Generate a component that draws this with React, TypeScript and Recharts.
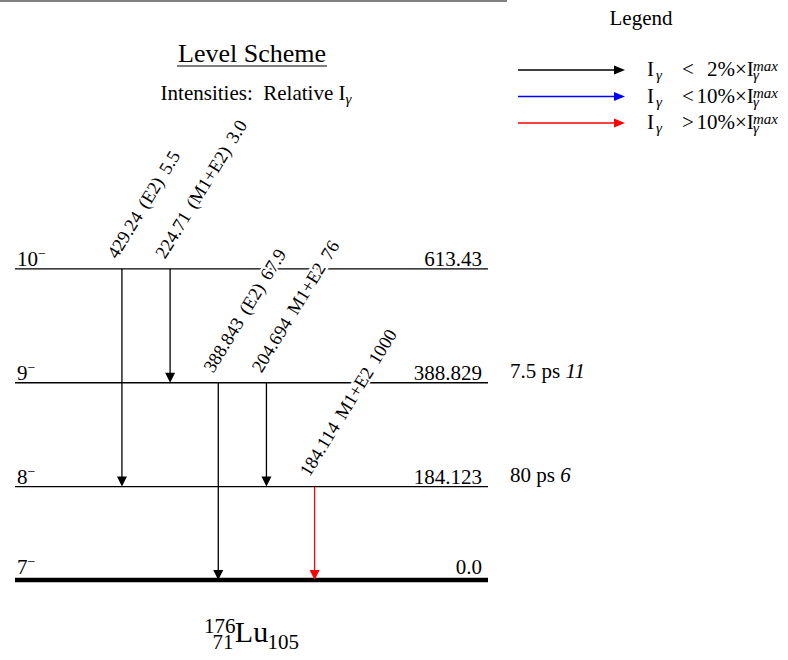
import React from 'react';
import {
  ComposedChart,
  XAxis,
  YAxis,
  ReferenceLine,
  Legend,
  Customized,
} from 'recharts';

const FONT = '"Liberation Serif", "Times New Roman", serif';

// Levels of 176Lu (keV)
const levelEnergies = [0.0, 184.123, 388.829, 613.43];
const levelEnergyLabels = ['0.0', '184.123', '388.829', '613.43'];
const levelSpins = ['7', '8', '9', '10'];
const levelParities = ['−', '−', '−', '−'];
const levelHalfLives = ['', '80 ps', '7.5 ps', ''];
const levelHalfLifeErrors = ['', '6', '11', ''];

// Gamma transitions
const gammaEnergies = ['429.24', '224.71', '388.843', '204.694', '184.114'];
const gammaMultipolarities = ['(E2)', '(M1+E2)', '(E2)', 'M1+E2', 'M1+E2'];
const gammaIntensities = ['5.5', '3.0', '67.9', '76', '1000'];
const gammaFromLevel = [3, 3, 2, 2, 1];
const gammaToLevel = [1, 2, 0, 1, 0];
const gammaColumns = [0, 1, 2, 3, 4];
const gammaColors = ['#000000', '#000000', '#000000', '#000000', '#ff0000'];

// Legend
const legendSigns = ['<', '<', '>'];
const legendPercents = ['2%', '10%', '10%'];
const legendColors = ['#000000', '#0000ff', '#ff0000'];

const renderLevel = (i: number) => (props: any) => {
  const { x1, y1, x2 } = props;
  const ground = i === 0;
  const cx = (x1 + x2) / 2;
  return (
    <g fontFamily={FONT} fill="#000">
      <line x1={x1} y1={y1} x2={x2} y2={y1} stroke="#000" strokeWidth={ground ? 4.5 : 1.3} />
      <text x={x1 + 2} y={y1 - (ground ? 6 : 3)} fontSize={21}>
        {levelSpins[i]}
        <tspan fontSize={14} dy={-8}>{levelParities[i]}</tspan>
      </text>
      <text x={x2 - 6} y={y1 - (ground ? 6 : 3)} fontSize={21} textAnchor="end">
        {levelEnergyLabels[i]}
      </text>
      {levelHalfLives[i] && (
        <text x={x2 + 22} y={y1 - 5} fontSize={21}>
          {levelHalfLives[i]}{' '}
          <tspan fontStyle="italic">{levelHalfLifeErrors[i]}</tspan>
        </text>
      )}
      {ground && (
        <g>
          <text x={cx} y={y1 + 62} fontSize={30} textAnchor="middle">Lu</text>
          <text x={cx - 16} y={y1 + 53} fontSize={21} textAnchor="end">176</text>
          <text x={cx - 18} y={y1 + 69} fontSize={21} textAnchor="end">71</text>
          <text x={cx + 16} y={y1 + 69} fontSize={21}>105</text>
        </g>
      )}
    </g>
  );
};

const renderGamma = (i: number) => (props: any) => {
  const { x1, y1, x2, y2 } = props;
  const color = gammaColors[i];
  const tx = x1 - 5;
  const ty = y1 - 9;
  return (
    <g>
      <line x1={x1} y1={y1} x2={x2} y2={y2 - 9} stroke={color} strokeWidth={1.3} />
      <polygon points={`${x2 - 5},${y2 - 10} ${x2 + 5},${y2 - 10} ${x2},${y2}`} fill={color} />
      <text
        x={tx}
        y={ty}
        transform={`rotate(-58.5 ${tx} ${ty})`}
        fontFamily={FONT}
        fontSize={18.5}
        fill="#000"
        stroke="#fff"
        strokeWidth={4}
        paintOrder="stroke"
        wordSpacing={3}
      >
        {`${gammaEnergies[i]} ${gammaMultipolarities[i]} ${gammaIntensities[i]}`}
      </text>
    </g>
  );
};

const LegendBox = () => (
  <svg width={278} height={140} fontFamily={FONT}>
    <text x={131} y={25} fontSize={21} textAnchor="middle">Legend</text>
    {legendColors.map((color, r) => {
      const cy = 70 + r * 26.5;
      return (
        <g key={r}>
          <line x1={8} x2={106} y1={cy} y2={cy} stroke={color} strokeWidth={1.3} />
          <polygon points={`104,${cy - 4.5} 104,${cy + 4.5} 115,${cy}`} fill={color} />
          <text fontSize={21}>
            <tspan x={137} y={cy + 6}>I</tspan>
            <tspan x={146} y={cy + 10} fontSize={15} fontStyle="italic">γ</tspan>
            <tspan x={172} y={cy + 6}>{legendSigns[r]}</tspan>
          </text>
          <text x={225} y={cy + 6} fontSize={21} textAnchor="end">{legendPercents[r]}</text>
          <text fontSize={21}>
            <tspan x={225} y={cy + 6}>×I</tspan>
            <tspan x={243} y={cy + 1} fontSize={15} fontStyle="italic">max</tspan>
            <tspan x={243} y={cy + 10} fontSize={15} fontStyle="italic">γ</tspan>
          </text>
        </g>
      );
    })}
  </svg>
);

const Titles = () => (
  <g fontFamily={FONT} fill="#000">
    <line x1={0} x2={507} y1={1} y2={1} stroke="#808080" strokeWidth={2} />
    <text x={252} y={62} fontSize={26} textAnchor="middle">Level Scheme</text>
    <line x1={177} x2={327} y1={66} y2={66} stroke="#000" strokeWidth={1.2} />
    <text x={256} y={100} fontSize={21} textAnchor="middle" style={{ whiteSpace: 'pre' }}>
      {'Intensities:  Relative I'}
      <tspan fontSize={15} fontStyle="italic" dy={4}>γ</tspan>
    </text>
  </g>
);

export default function App() {
  return (
    <div style={{ position: 'absolute', left: 0, top: 0, background: '#fff' }}>
      <ComposedChart
        width={788}
        height={660}
        data={[]}
        margin={{ top: 22, right: 300, bottom: 80, left: 15 }}
      >
        <XAxis type="number" dataKey="x" domain={[-2.22, 7.6]} allowDataOverflow hide />
        <YAxis type="number" domain={[0, 1100]} allowDataOverflow hide />
        <Customized component={Titles} />
        {levelEnergies.map((e, i) => (
          <ReferenceLine key={`lvl-${i}`} y={e} ifOverflow="visible" shape={renderLevel(i)} />
        ))}
        {gammaColumns.map((col, i) => (
          <ReferenceLine
            key={`g-${i}`}
            ifOverflow="visible"
            segment={[
              { x: col, y: levelEnergies[gammaFromLevel[i]] },
              { x: col, y: levelEnergies[gammaToLevel[i]] },
            ]}
            shape={renderGamma(i)}
          />
        ))}
        <Legend
          layout="horizontal"
          verticalAlign="middle"
          align="center"
          content={<LegendBox />}
          wrapperStyle={{ left: 510, top: 0, width: 278, height: 140 }}
        />
      </ComposedChart>
    </div>
  );
}
